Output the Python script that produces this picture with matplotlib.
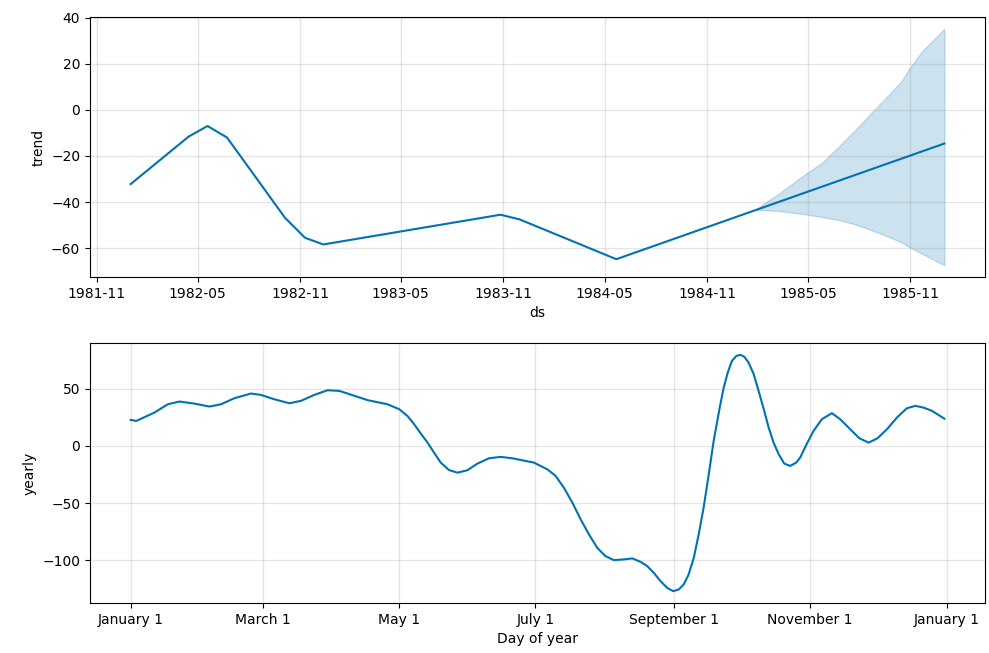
import matplotlib
matplotlib.use("Agg")
import matplotlib.pyplot as plt
import matplotlib.dates as mdates
import matplotlib.ticker as mticker
import pandas as pd

# ---- trend component (piecewise linear breakpoints) ----
trend_dates = ["1982-01-01", "1982-04-15", "1982-05-19", "1982-06-23", "1982-10-05",
               "1982-11-10", "1982-12-13", "1983-10-27", "1983-11-30", "1984-05-22",
               "1986-01-01"]
trend_values = [-32.2, -11.6, -7.0, -12.0, -46.8, -55.5, -58.4, -45.5, -47.5, -64.8, -14.6]

# ---- trend uncertainty band (forecast period) ----
band_dates = ["1985-01-28", "1985-02-07", "1985-03-11", "1985-04-29", "1985-05-26",
              "1985-06-25", "1985-07-25", "1985-08-23", "1985-09-23", "1985-10-16",
              "1985-10-29", "1985-11-21", "1986-01-01"]
band_upper = [-43.4, -41.3, -36.1, -27.4, -23.0, -16.0, -8.7, -1.3, 6.5, 12.5, 17.5, 25.2, 35.2]
band_lower = [-43.4, -43.5, -43.9, -45.4, -46.5, -47.8, -49.7, -52.2, -55.1, -57.5, -59.4, -62.3, -67.4]

# ---- yearly seasonality (day offset from January 1, value) ----
yearly_days = [0, 2.5, 10.6, 16.6, 21.8, 28.5, 35.2, 40.4, 46.4, 53.8, 58.3, 64.2, 71.0,
               76.2, 82.1, 88.1, 93.3, 97.0, 106.0, 114.9, 120.1, 123.8, 126.8, 129.8,
               132.8, 135.7, 138.7, 142.4, 146.2, 150.6, 155.1, 160.3, 165.5, 170.7,
               174.5, 180.4, 186.4, 190.1, 193.8, 197.6, 201.3, 205.0, 208.7, 212.4,
               216.1, 220.6, 224.4, 228.1, 231.1, 234.0, 237.0, 240.0, 242.7, 245.2,
               247.4, 249.6, 251.9, 254.1, 256.3, 258.6, 260.8, 263.5, 265.3, 267.1,
               269.0, 271.0, 272.8, 274.5, 276.4, 278.7, 280.9, 283.2, 285.4, 287.6,
               289.9, 292.4, 295.1, 297.7, 299.5, 302.5, 305.5, 309.2, 313.7, 317.4,
               321.9, 326.0, 330.1, 334.1, 338.3, 342.8, 347.2, 351.0, 354.7, 358.5, 364.0]
yearly_values = [22.8, 21.9, 29.2, 36.5, 38.9, 37.1, 34.5, 36.5, 41.8, 45.9, 44.7, 40.9, 37.4,
                 39.5, 44.7, 48.8, 48.2, 45.9, 40.1, 36.5, 32.2, 26.3, 19.0, 10.8,
                 2.9, -5.8, -14.6, -21.1, -23.4, -21.3, -15.5, -10.8, -9.6, -10.8,
                 -12.3, -14.6, -20.5, -26.3, -36.6, -49.7, -64.3, -77.5, -89.2, -96.5,
                 -100.0, -99.4, -98.5, -101.5, -105.3, -111.1, -118.4, -124.3, -127.2, -125.7,
                 -121.3, -112.6, -98.0, -77.5, -54.1, -24.9, 4.4, 33.6, 51.1, 64.3,
                 74.6, 78.9, 79.8, 78.1, 73.1, 62.9, 48.2, 32.2, 16.1, 2.9,
                 -7.3, -15.5, -17.5, -14.6, -10.2, 2.0, 13.2, 23.4, 28.7, 23.4,
                 14.6, 6.7, 2.9, 6.7, 14.6, 24.9, 33.0, 35.1, 33.6, 30.7, 23.9]

trend_ticks_months = (5, 11)
yearly_ticks_months = (1, 3, 5, 7, 9, 11)

color = "#0072B2"

fig = plt.figure(figsize=(9.89, 6.53), dpi=100)
ax1 = fig.add_axes([0.0910, 0.5758, 0.9050, 0.3982])
ax2 = fig.add_axes([0.0910, 0.0766, 0.9050, 0.3981])

# Trend
td = pd.to_datetime(trend_dates)
bd = pd.to_datetime(band_dates)
ax1.plot(td, trend_values, ls="-", c=color)
ax1.fill_between(bd, band_lower, band_upper, color=color, alpha=0.2)
ax1.xaxis.set_major_locator(mdates.MonthLocator(bymonth=trend_ticks_months))
ax1.xaxis.set_major_formatter(mdates.DateFormatter("%Y-%m"))
ax1.grid(True, which="major", c="gray", ls="-", lw=1, alpha=0.2)
ax1.set_xlabel("ds")
ax1.set_ylabel("trend")

# Yearly
base = pd.Timestamp("2017-01-01")
yd = [base + pd.Timedelta(days=d) for d in yearly_days]
ax2.plot(yd, yearly_values, ls="-", c=color)
ax2.xaxis.set_major_locator(mdates.MonthLocator(bymonth=yearly_ticks_months))
ax2.xaxis.set_major_formatter(mticker.FuncFormatter(
    lambda x, pos: "{} {}".format(mdates.num2date(x).strftime("%B"), mdates.num2date(x).day)))
ax2.grid(True, which="major", c="gray", ls="-", lw=1, alpha=0.2)
ax2.set_xlabel("Day of year")
ax2.set_ylabel("yearly")

fig.savefig("out.png", dpi=100)
